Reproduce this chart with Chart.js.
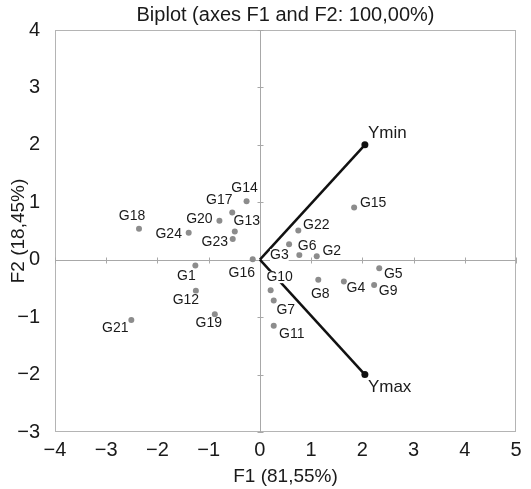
<!DOCTYPE html>
<html>
<head>
<meta charset="utf-8">
<script src="https://cdn.jsdelivr.net/npm/chart.js@4.4.1/dist/chart.umd.min.js"></script>
<style>
  html, body { margin: 0; padding: 0; background: #fff; }
  #wrap { width: 531px; height: 489px; }
</style>
</head>
<body>
<div id="wrap"><canvas id="biplot"></canvas></div>
<script>
// observations (F1, F2 coordinates)
var obsNames = ['G1', 'G2', 'G3', 'G4', 'G5', 'G6', 'G7', 'G8', 'G9', 'G10', 'G11', 'G12',
                'G13', 'G14', 'G15', 'G16', 'G17', 'G18', 'G19', 'G20', 'G21', 'G22', 'G23', 'G24'];
var obsF1 = [-1.26, 1.11, 0.77, 1.64, 2.33, 0.57, 0.27, 1.14, 2.23, 0.21, 0.27, -1.25,
             -0.49, -0.26, 1.84, -0.14, -0.54, -2.36, -0.88, -0.79, -2.51, 0.75, -0.53, -1.39];
var obsF2 = [-0.10, 0.06, 0.08, -0.38, -0.15, 0.27, -0.71, -0.35, -0.44, -0.53, -1.15, -0.54,
             0.49, 1.02, 0.91, 0.01, 0.82, 0.54, -0.95, 0.68, -1.05, 0.51, 0.36, 0.47];

// variables (vectors from the origin)
var varNames = ['Ymin', 'Ymax'];
var varF1 = [2.05, 2.05];
var varF2 = [2.0, -2.0];

var xTicks = [-4, -3, -2, -1, 0, 1, 2, 3, 4, 5];
var yTicks = [-3, -2, -1, 0, 1, 2, 3, 4];

// where each label sits relative to its dot (px)
var labelShift = [[-9, 11], [15, -5], [-20, 0], [12, 7], [14, 6], [18, 2], [12, 10], [2, 14],
                  [14, 6], [9, -13], [18, 8], [-10, 9], [12, -10], [-2, -13], [19, -4], [-11, 14],
                  [-13, -12], [-7, -13], [-6, 9], [-20, -2], [-16, 8], [18, -5], [-18, 3], [-20, 1]];

var FONT = '"Liberation Sans", Arial, sans-serif';
var minus = function (v) { return String(v).replace('-', '\u2212'); };

var points = obsNames.map(function (n, i) { return { x: obsF1[i], y: obsF2[i] }; });

var datasets = varNames.map(function (n, i) {
  return {
    type: 'line',
    label: n,
    data: [{ x: 0, y: 0 }, { x: varF1[i], y: varF2[i] }],
    borderColor: '#111',
    borderWidth: 2.5,
    pointRadius: [0, 3.5],
    pointBackgroundColor: '#111',
    pointBorderWidth: 0,
    fill: false
  };
});
datasets.push({
  type: 'scatter',
  label: 'obs',
  data: points,
  pointRadius: 3,
  pointBackgroundColor: '#8c8c8c',
  pointBorderWidth: 0
});

var framePlugin = {
  id: 'frame',
  beforeDatasetsDraw: function (chart) {
    var ctx = chart.ctx, a = chart.chartArea, sx = chart.scales.x, sy = chart.scales.y;
    ctx.save();
    ctx.strokeStyle = '#b4b4b4';
    ctx.lineWidth = 1;
    ctx.strokeRect(Math.round(a.left) + 0.5, Math.round(a.top) + 0.5,
                   Math.round(a.width) - 1, Math.round(a.height) - 1);
    var x0 = Math.round(sx.getPixelForValue(0)) + 0.5;
    var y0 = Math.round(sy.getPixelForValue(0)) + 0.5;
    ctx.strokeStyle = '#a8a8a8';
    ctx.beginPath();
    ctx.moveTo(x0, a.top); ctx.lineTo(x0, a.bottom);
    ctx.moveTo(a.left, y0); ctx.lineTo(a.right, y0);
    xTicks.forEach(function (v) {
      var px = Math.round(sx.getPixelForValue(v)) + 0.5;
      ctx.moveTo(px, y0 - 3); ctx.lineTo(px, y0 + 3);
    });
    yTicks.forEach(function (v) {
      var py = Math.round(sy.getPixelForValue(v)) + 0.5;
      ctx.moveTo(x0 - 3, py); ctx.lineTo(x0 + 3, py);
    });
    ctx.stroke();
    ctx.restore();
  },
  afterDatasetsDraw: function (chart) {
    var ctx = chart.ctx, sx = chart.scales.x, sy = chart.scales.y;
    ctx.save();
    ctx.font = '14px ' + FONT;
    ctx.textAlign = 'center';
    ctx.textBaseline = 'middle';
    obsNames.forEach(function (n, i) {
      var px = sx.getPixelForValue(obsF1[i]) + labelShift[i][0];
      var py = sy.getPixelForValue(obsF2[i]) + labelShift[i][1];
      var w = ctx.measureText(n).width;
      ctx.fillStyle = '#fff';
      ctx.fillRect(px - w / 2, py - 6, w, 12);
      ctx.fillStyle = '#1a1a1a';
      ctx.fillText(n, px, py);
    });
    ctx.font = '17px ' + FONT;
    ctx.textAlign = 'left';
    varNames.forEach(function (n, i) {
      var px = sx.getPixelForValue(varF1[i]) + 3;
      var py = sy.getPixelForValue(varF2[i]) + (varF2[i] > 0 ? -12 : 13);
      ctx.fillStyle = '#1a1a1a';
      ctx.fillText(n, px, py);
    });
    ctx.restore();
  }
};

new Chart(document.getElementById('biplot'), {
  type: 'scatter',
  data: { datasets: datasets },
  plugins: [framePlugin],
  options: {
    responsive: true,
    maintainAspectRatio: false,
    animation: false,
    layout: { padding: { top: 0, right: 15, bottom: 0, left: 0 } },
    plugins: {
      legend: { display: false },
      tooltip: { enabled: false },
      title: {
        display: true,
        fullSize: false,
        text: 'Biplot (axes F1 and F2: 100,00%)',
        color: '#1a1a1a',
        font: { family: FONT, size: 20, weight: 'normal' },
        padding: { top: 3, bottom: 3 }
      }
    },
    scales: {
      x: {
        type: 'linear',
        min: -4,
        max: 5,
        afterFit: function (s) { s.height = 57; },
        grid: { display: false },
        border: { display: false },
        ticks: {
          stepSize: 1,
          padding: -2,
          color: '#1a1a1a',
          font: { family: FONT, size: 20 },
          callback: minus
        },
        title: {
          display: true,
          text: 'F1 (81,55%)',
          color: '#1a1a1a',
          font: { family: FONT, size: 19 },
          padding: { top: 0, bottom: 1 }
        }
      },
      y: {
        type: 'linear',
        min: -3,
        max: 4,
        afterFit: function (s) { s.width = 55; },
        grid: { display: false },
        border: { display: false },
        ticks: {
          stepSize: 1,
          padding: 7,
          color: '#1a1a1a',
          font: { family: FONT, size: 20 },
          callback: minus
        },
        title: {
          display: true,
          text: 'F2 (18,45%)',
          color: '#1a1a1a',
          font: { family: FONT, size: 19 },
          padding: { top: 7, bottom: 0 }
        }
      }
    }
  }
});
</script>
</body>
</html>
